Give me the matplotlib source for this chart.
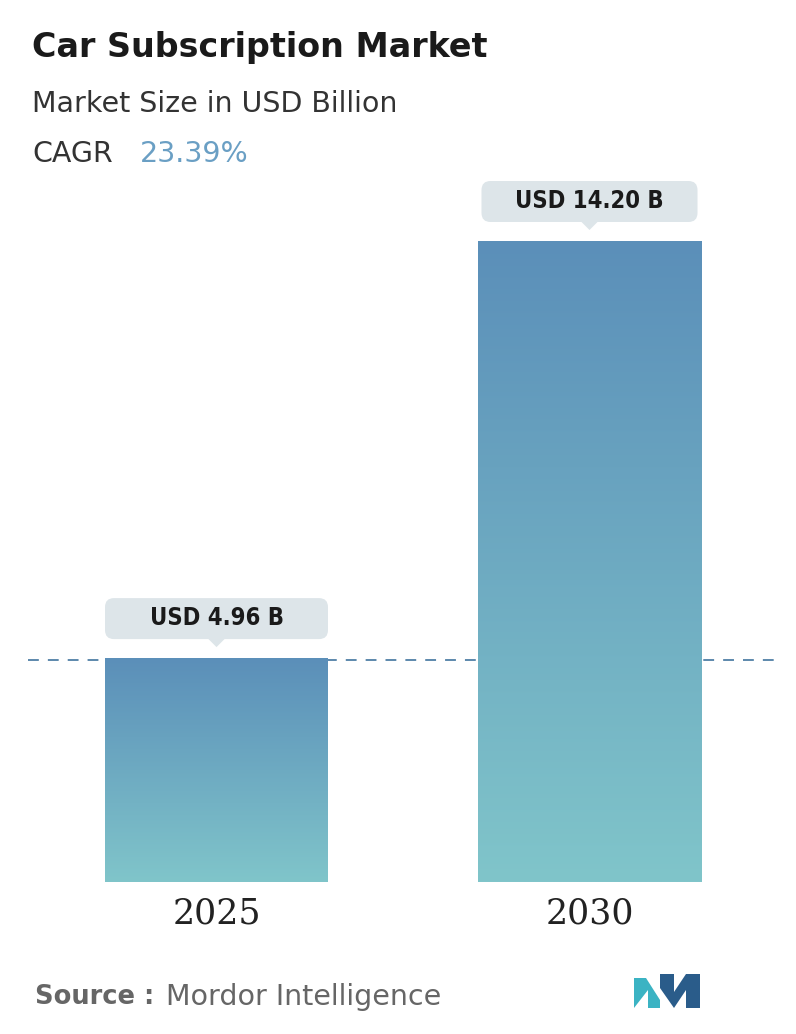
import numpy as np
import matplotlib.pyplot as plt
from matplotlib.patches import FancyBboxPatch, Polygon
from matplotlib.colors import LinearSegmentedColormap

years = ["2025", "2030"]
values = [4.96, 14.20]
labels = ["USD 4.96 B", "USD 14.20 B"]
cagr = "23.39%"

W, H = 796, 1034
fig = plt.figure(figsize=(W / 100, H / 100), dpi=100)

# axes placed so that the data scale matches the reference layout
ppu = 641 / 14.2
ax = fig.add_axes([0, (H - 882) / H, 1, 16 * ppu / H])
ax.set_ylim(0, 16)
ax.set_xlim(-216.5 / 373, (W - 216.5) / 373)
ax.axis("off")
u = 1 / 373  # one pixel in x data units

cmap = LinearSegmentedColormap.from_list("g", ["#80c5ca", "#5b8fb9"])
grad = np.linspace(0, 1, 256).reshape(-1, 1)
bars = ax.bar(range(len(years)), values, width=223 / 373, color="none")
for b, v in zip(bars, values):
    im = ax.imshow(grad, cmap=cmap, origin="lower", aspect="auto",
                   extent=[b.get_x(), b.get_x() + b.get_width(), 0, v], zorder=2)
    im.set_clip_path(b)

ax.plot([28 * u - 216.5 * u, 780 * u - 216.5 * u], [values[0] - 1.5 / ppu] * 2, color="#4f7fa6",
        lw=1.3, ls=(0, (6, 5)), zorder=1)

# value callouts
box_w = [223, 216]
for i, (v, lab) in enumerate(zip(values, labels)):
    yb = v + 19 / ppu
    bw = box_w[i] * u
    ax.add_patch(FancyBboxPatch((i - bw / 2, yb), bw, 41 / ppu,
                                boxstyle=f"round,pad=0,rounding_size={9 * u}",
                                mutation_aspect=373 / ppu,
                                fc="#dde5e9", ec="none", zorder=3))
    ax.add_patch(Polygon([[i - 9 * u, yb + 1 / ppu], [i + 9 * u, yb + 1 / ppu],
                          [i, yb - 8 / ppu]], closed=True, fc="#dde5e9", ec="none", zorder=3))
    ax.text(i, yb + 21 / ppu, lab, ha="center", va="center", fontsize=17,
            fontweight="bold", color="#1a1a1a", zorder=4, fontstretch="condensed")
    ax.text(i, -31 / ppu, years[i], ha="center", va="center", fontsize=25,
            family="DejaVu Serif", color="#222222")

fig.text(32 / W, 1 - 47 / H, "Car Subscription Market", fontsize=24, fontweight="bold",
         color="#1a1a1a", va="center")
fig.text(32 / W, 1 - 104 / H, "Market Size in USD Billion", fontsize=20.5, color="#333333", va="center")
fig.text(32 / W, 1 - 154 / H, "CAGR", fontsize=20.5, color="#333333", va="center")
fig.text(140 / W, 1 - 154 / H, cagr, fontsize=20.5, color="#6a9fc4", va="center")

fig.text(35 / W, 1 - 997 / H, "Source :", fontsize=18.5, fontweight="bold", color="#666666", va="center")
fig.text(166 / W, 1 - 997 / H, "Mordor Intelligence", fontsize=20.5, color="#666666", va="center")

# logo
lg = fig.add_axes([634 / W, 1 - 1008 / H, 66 / W, 34 / H])
lg.axis("off")
lg.set_xlim(0, 66)
lg.set_ylim(0, 34)
lg.add_patch(Polygon([[0, 0], [0, 30], [12, 30], [26, 8], [26, 0], [14, 0], [14, 18]], fc="#3bb3c3"))
lg.add_patch(Polygon([[26, 34], [40, 34], [40, 16], [52, 34], [66, 34], [66, 0], [52, 0], [52, 18], [40, 0], [26, 20]],
                     fc="#2a5c8a"))

fig.savefig("out.png", dpi=100, facecolor="white")
